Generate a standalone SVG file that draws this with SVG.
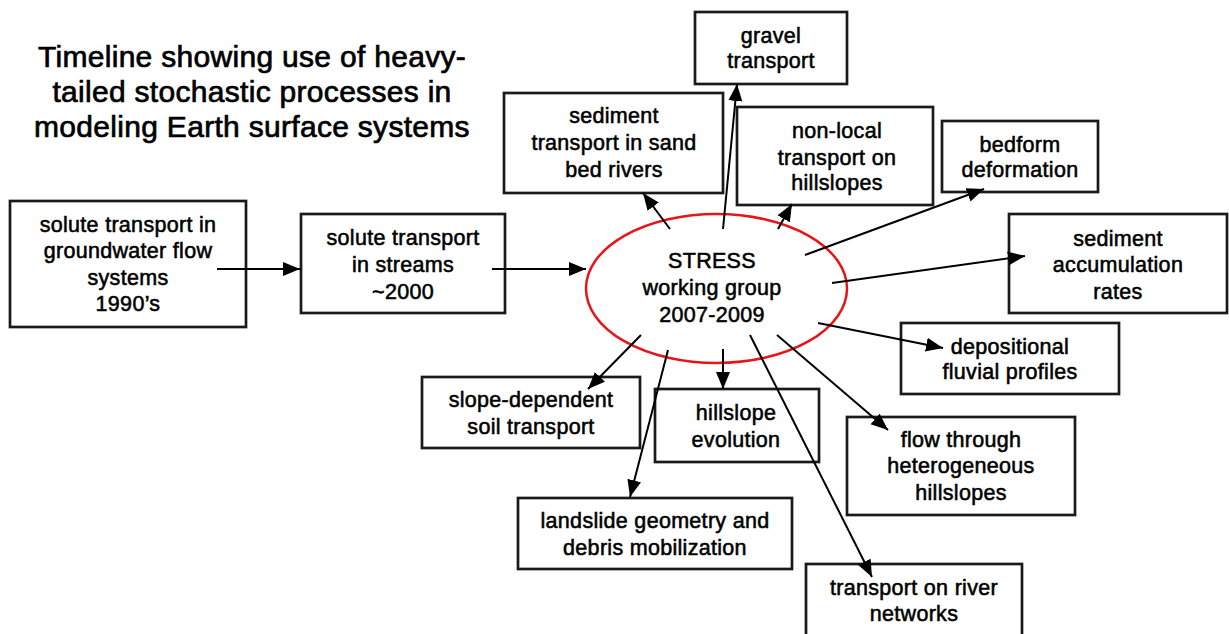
<svg xmlns="http://www.w3.org/2000/svg" width="1229" height="634" viewBox="0 0 1229 634">
<style>
.t{font-family:"Liberation Sans",Arial,Helvetica,sans-serif;font-size:21.5px;text-anchor:middle;fill:#000;stroke:#000;stroke-width:0.55px;letter-spacing:0.3px}
.title{font-family:"Liberation Sans",Arial,Helvetica,sans-serif;font-size:30px;text-anchor:middle;fill:#000;stroke:#000;stroke-width:0.7px;letter-spacing:0.3px}
.box{fill:#fff;stroke:#1a1a1a;stroke-width:2.7}
.c{fill:none;stroke:#000;stroke-width:2;marker-end:url(#ah)}
</style>
<defs>
<marker id="ah" markerUnits="userSpaceOnUse" markerWidth="19" markerHeight="15" refX="17" refY="7" orient="auto">
<path d="M0,0 L17,7 L0,14 z" fill="#000"/>
</marker>
</defs>
<rect width="1229" height="634" fill="#fff"/>
<g id="title">
<text class="title" x="252" y="67">Timeline showing use of heavy-</text>
<text class="title" x="252" y="102">tailed stochastic processes in</text>
<text class="title" x="252" y="137">modeling Earth surface systems</text>
</g>
<g id="groundwater">
<rect class="box" x="10" y="201" width="236" height="126"/>
<text class="t" x="128" y="232">solute transport in</text>
<text class="t" x="128" y="258">groundwater flow</text>
<text class="t" x="128" y="285">systems</text>
<text class="t" x="128" y="311">1990’s</text>
</g>
<g id="streams">
<rect class="box" x="301" y="214" width="204" height="99"/>
<text class="t" x="403" y="245">solute transport</text>
<text class="t" x="403" y="272">in streams</text>
<text class="t" x="403" y="299">~2000</text>
</g>
<g id="stress">
<ellipse cx="716.5" cy="288.5" rx="130.5" ry="74.5" fill="#fff" stroke="#e8141a" stroke-width="2.5"/>
<text class="t" x="712" y="268">STRESS</text>
<text class="t" x="712" y="295">working group</text>
<text class="t" x="712" y="322">2007-2009</text>
</g>
<g id="gravel">
<rect class="box" x="695" y="12" width="152" height="72"/>
<text class="t" x="771" y="43">gravel</text>
<text class="t" x="771" y="68">transport</text>
</g>
<g id="sand">
<rect class="box" x="504" y="93" width="219" height="100"/>
<text class="t" x="614" y="123">sediment</text>
<text class="t" x="614" y="150">transport in sand</text>
<text class="t" x="614" y="177">bed rivers</text>
</g>
<g id="nonlocal">
<rect class="box" x="737" y="107" width="196" height="98"/>
<text class="t" x="837" y="138">non-local</text>
<text class="t" x="837" y="165">transport on</text>
<text class="t" x="837" y="190">hillslopes</text>
</g>
<g id="bedform">
<rect class="box" x="942" y="121" width="156" height="71"/>
<text class="t" x="1020" y="152">bedform</text>
<text class="t" x="1020" y="177">deformation</text>
</g>
<g id="accumulation">
<rect class="box" x="1009" y="214" width="218" height="99"/>
<text class="t" x="1118" y="246">sediment</text>
<text class="t" x="1118" y="272">accumulation</text>
<text class="t" x="1118" y="299">rates</text>
</g>
<g id="depositional">
<rect class="box" x="901" y="323" width="218" height="71"/>
<text class="t" x="1010" y="354">depositional</text>
<text class="t" x="1010" y="379">fluvial profiles</text>
</g>
<g id="slope">
<rect class="box" x="422" y="377" width="218" height="71"/>
<text class="t" x="531" y="407">slope-dependent</text>
<text class="t" x="531" y="434">soil transport</text>
</g>
<g id="hillslope">
<rect class="box" x="655" y="389" width="164" height="73"/>
<text class="t" x="736" y="420">hillslope</text>
<text class="t" x="736" y="447">evolution</text>
</g>
<g id="landslide">
<rect class="box" x="518" y="498" width="274" height="71"/>
<text class="t" x="655" y="528">landslide geometry and</text>
<text class="t" x="655" y="555">debris mobilization</text>
</g>
<g id="flow">
<rect class="box" x="847" y="417" width="228" height="98"/>
<text class="t" x="961" y="447">flow through</text>
<text class="t" x="961" y="473">heterogeneous</text>
<text class="t" x="961" y="500">hillslopes</text>
</g>
<g id="river">
<rect class="box" x="806" y="564" width="216" height="80"/>
<text class="t" x="914" y="595">transport on river</text>
<text class="t" x="914" y="621">networks</text>
</g>
<g id="connectors">
<line class="c" x1="217" y1="269" x2="300" y2="269"/>
<line class="c" x1="492" y1="269" x2="586" y2="269"/>
<line class="c" x1="670" y1="229" x2="643" y2="193"/>
<line class="c" x1="723" y1="229" x2="737" y2="84"/>
<line class="c" x1="778" y1="229" x2="792" y2="204"/>
<line class="c" x1="805" y1="255" x2="984" y2="189"/>
<line class="c" x1="832" y1="283" x2="1025" y2="256"/>
<line class="c" x1="818" y1="323" x2="943" y2="348"/>
<line class="c" x1="777" y1="335" x2="888" y2="430"/>
<line class="c" x1="750" y1="335" x2="872" y2="577"/>
<line class="c" x1="723" y1="349" x2="723" y2="389"/>
<line class="c" x1="668" y1="350" x2="630" y2="497"/>
<line class="c" x1="641" y1="335" x2="588" y2="389"/>
</g>
</svg>
